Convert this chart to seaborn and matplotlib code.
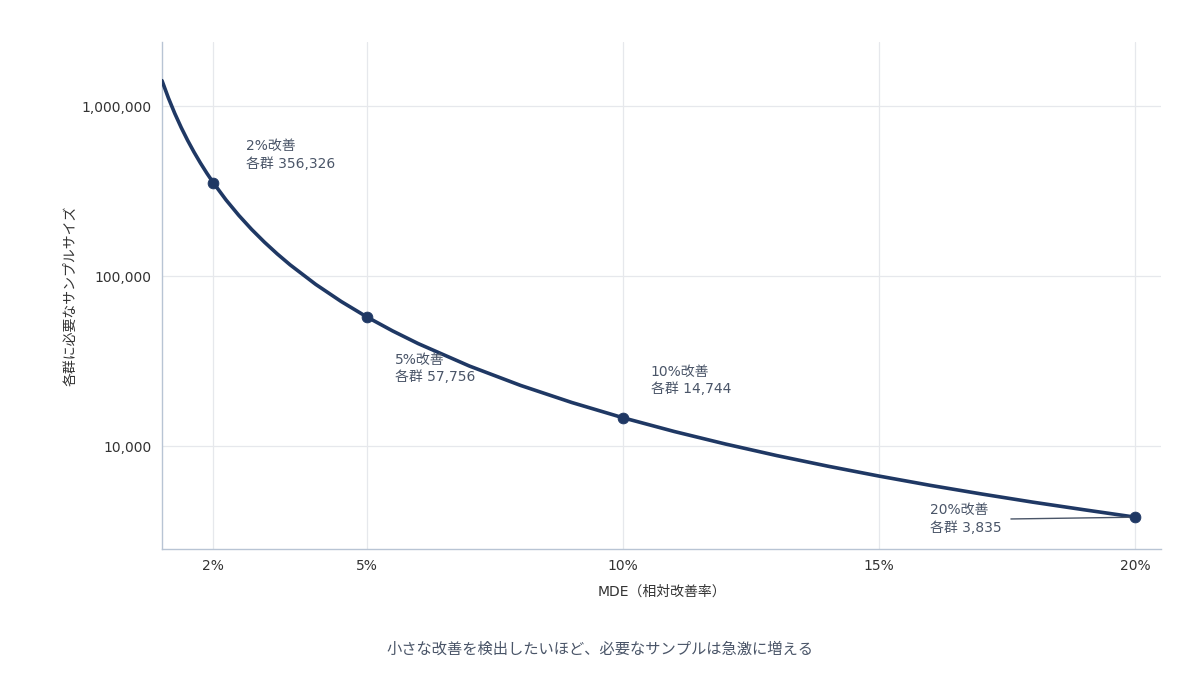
import numpy as np
import pandas as pd
import matplotlib
matplotlib.use('Agg')
import matplotlib.pyplot as plt
import matplotlib.ticker as mticker
import seaborn as sns

# curve (MDE in %, samples per group)
mde = [1.0, 1.125, 1.25, 1.375, 1.5, 1.625, 1.75, 1.875, 2.0, 2.25, 2.5, 2.75, 3.0,
       3.25, 3.5, 4.0, 4.5, 5.0, 5.5, 6.0, 7.0, 8.0, 9.0,
       10.0, 11.0, 12.0, 13.0, 14.0, 15.0, 16.0, 17.0, 18.0, 19.0, 20.0]
samples = [1419000, 1122000, 909000, 751800, 632000, 538900, 465000, 405200, 356326,
           281900, 228600, 189100, 159100, 135700, 117100, 89860, 71160,
           57756, 47840, 40280, 29720, 22850, 18130, 14744, 12240, 10330, 8835, 7650,
           6690, 5900, 5250, 4700, 4240, 3835]

# highlighted points
point_mde = [2, 5, 10, 20]
point_n = [356326, 57756, 14744, 3835]
point_labels = ['2%改善\n各群 356,326', '5%改善\n各群 57,756',
                '10%改善\n各群 14,744', '20%改善\n各群 3,835']

x_ticks = [2, 5, 10, 15, 20]
x_ticklabels = ['2%', '5%', '10%', '15%', '20%']

line_color = '#1f3864'
text_color = '#4a5568'

sns.set_style('white')
plt.rcParams['font.family'] = ['DejaVu Sans', 'Noto Sans CJK JP']

df = pd.DataFrame({'mde': mde, 'n': samples})
pts = pd.DataFrame({'mde': point_mde, 'n': point_n})

fig = plt.figure(figsize=(12, 6.75), dpi=100)
ax = fig.add_axes([0.135, 0.187, 0.8325, 0.751])

sns.lineplot(data=df, x='mde', y='n', ax=ax, color=line_color, linewidth=2.6, zorder=3)
sns.scatterplot(data=pts, x='mde', y='n', ax=ax, color=line_color, s=60,
                edgecolor=line_color, zorder=4)

ax.set_yscale('log')
ax.set_xlim(1, 20.5)
ax.set_ylim(2500, 2.4e6)

ax.set_xticks(x_ticks)
ax.set_xticklabels(x_ticklabels)
ax.yaxis.set_major_locator(mticker.LogLocator(base=10))
ax.yaxis.set_major_formatter(mticker.FuncFormatter(lambda v, p: f'{int(v):,}'))
ax.yaxis.set_minor_locator(mticker.LogLocator(base=10, subs=np.arange(2, 10)))
ax.yaxis.set_minor_formatter(mticker.NullFormatter())

ax.tick_params(axis='both', which='major', labelsize=10, labelcolor='#333333',
               color='#333333', length=4, width=1)
ax.tick_params(axis='y', which='minor', color='#333333', length=2.5, width=0.8)

ax.grid(True, which='major', color='#e6e8ec', linewidth=0.9, zorder=0)
ax.set_axisbelow(True)

for side in ['top', 'right']:
    ax.spines[side].set_visible(False)
for side in ['left', 'bottom']:
    ax.spines[side].set_color('#b8c4d4')
    ax.spines[side].set_linewidth(1)

ax.set_xlabel('MDE（相対改善率）', fontsize=10, color='#333333', labelpad=8)
ax.set_ylabel('各群に必要なサンプルサイズ', fontsize=10, color='#333333', labelpad=3)

label_pos = [(2.64, 640000), (5.54, 35500), (10.54, 30200), (16.0, 4620)]
for i, (lx, ly) in enumerate(label_pos):
    if i == 3:
        ax.annotate(point_labels[i], xy=(point_mde[i], point_n[i]), xytext=(lx, ly),
                    fontsize=10, color=text_color, va='top', ha='left', linespacing=1.3,
                    arrowprops=dict(arrowstyle='-', color=text_color, lw=1,
                                    relpos=(1, 0.5), shrinkA=4, shrinkB=4))
    else:
        ax.text(lx, ly, point_labels[i], fontsize=10, color=text_color,
                va='top', ha='left', linespacing=1.3)

fig.text(0.5, 0.038, '小さな改善を検出したいほど、必要なサンプルは急激に増える',
         ha='center', va='center', fontsize=11, color=text_color)

fig.savefig('out.png', dpi=100)
